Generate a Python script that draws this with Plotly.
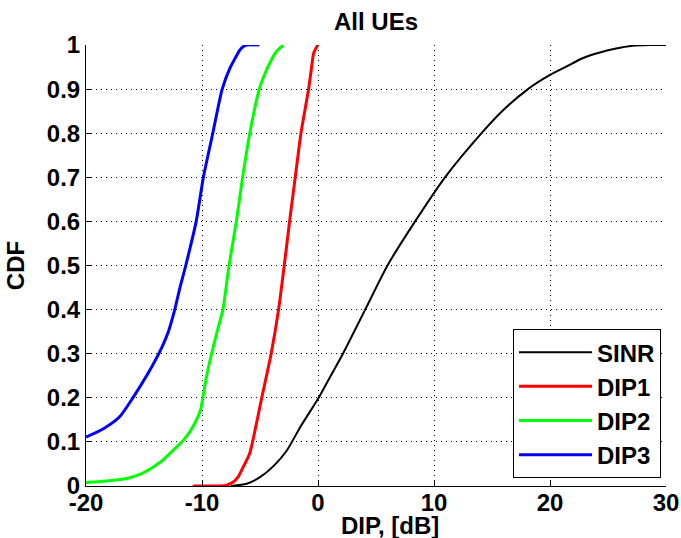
import plotly.graph_objects as go

# ---- data ----
sinr_x = [-7.5, -6.15, -5.0, -3.84, -2.7, -1.5, 0.06, 1.1, 2.15, 4.07, 5.99, 8.37, 10.95,
          14.1, 16.0, 18.1, 20, 21.4, 22.8, 24.3, 25.7, 27.1, 28.5, 30]
sinr_y = [0, 0.005, 0.02, 0.045, 0.08, 0.135, 0.2, 0.25, 0.3, 0.4, 0.5, 0.6, 0.7,
          0.8, 0.853, 0.9, 0.932, 0.951, 0.97, 0.983, 0.992, 0.998, 1.0, 1.0]

dip1_x = [-10.8, -8.5, -7.88, -7.3, -6.9, -6.58, -5.9, -5.43, -4.85, -4.04, -3.4, -2.91, -2.45,
          -1.96, -1.47, -0.81, -0.55, -0.38, -0.03]
dip1_y = [0, 0, 0.002, 0.009, 0.02, 0.036, 0.073, 0.126, 0.20, 0.30, 0.40, 0.50, 0.60,
          0.70, 0.80, 0.90, 0.95, 0.981, 1.0]

dip2_x = [-20, -18, -16.5, -15.2, -14.2, -13.4, -12.8, -12.2, -11.6, -11.0, -10.5, -10.1, -9.93,
          -9.6, -9.2, -8.7, -8.2, -7.67, -7.04, -6.5, -5.88, -5.06, -4.56, -4.1, -3.7, -3.3, -2.97]
dip2_y = [0.008, 0.012, 0.017, 0.028, 0.043, 0.058, 0.073, 0.088, 0.104, 0.125, 0.149, 0.175, 0.20,
          0.25, 0.297, 0.35, 0.40, 0.50, 0.60, 0.70, 0.80, 0.90, 0.936, 0.962, 0.981, 0.993, 1.0]

dip3_x = [-20, -18.5, -17.1, -15.96, -14.66, -13.65, -12.9, -12.35, -11.9, -11.4, -10.5, -9.88,
          -9.07, -8.26, -7.6, -7.1, -6.73, -6.4, -6.15, -5.05]
dip3_y = [0.111, 0.13, 0.157, 0.20, 0.255, 0.304, 0.35, 0.40, 0.45, 0.50, 0.60, 0.70,
          0.80, 0.90, 0.947, 0.972, 0.989, 0.997, 1.0, 1.0]

series_names = ["SINR", "DIP1", "DIP2", "DIP3"]
x_ticks = [-20, -10, 0, 10, 20, 30]
x_tick_text = ["-20", "-10", "0", "10", "20", "30"]
y_ticks = [0, 0.1, 0.2, 0.3, 0.4, 0.5, 0.6, 0.7, 0.8, 0.9, 1]
y_tick_text = ["0", "0.1", "0.2", "0.3", "0.4", "0.5", "0.6", "0.7", "0.8", "0.9", "1"]
title_text = "All UEs"
x_title = "DIP, [dB]"
y_title = "CDF"

# ---- styles ----
colors = ["#000000", "#FF0000", "#00FF00", "#0000FF"]
widths = [2, 3, 3, 3]
FONT = "Liberation Sans, Arial, sans-serif"
TXT = dict(family=FONT, size=24, color="#000000", weight="bold")

fig = go.Figure()
for i, (xs, ys) in enumerate([(sinr_x, sinr_y), (dip1_x, dip1_y), (dip2_x, dip2_y), (dip3_x, dip3_y)]):
    fig.add_trace(go.Scatter(
        x=xs, y=ys, mode="lines", name=series_names[i],
        legendgroup=series_names[i],
        line=dict(color=colors[i], width=widths[i], shape="spline", smoothing=0.6),
    ))

axis_common = dict(
    showline=True, linecolor="#000000", linewidth=1,
    ticks="inside", ticklen=5, tickcolor="#000000", tickwidth=1,
    showgrid=True, gridcolor="#000000", gridwidth=1, griddash="1px,4px",
    zeroline=False, mirror=False, automargin=False,
    tickfont=TXT,
)

fig.update_xaxes(range=[-20, 30], tickvals=x_ticks, ticktext=x_tick_text,
                 ticklabelstandoff=-5, **axis_common)
fig.update_yaxes(range=[0, 1], tickvals=y_ticks, ticktext=y_tick_text,
                 title=dict(text=y_title, font=TXT, standoff=15),
                 **axis_common)

# x-axis label placed as in the reference (slightly right of centre)
fig.add_annotation(text=x_title, xref="paper", yref="paper",
                   x=0.524, y=-0.0907, xanchor="center", yanchor="middle",
                   showarrow=False, font=TXT)

fig.update_layout(
    width=681, height=538,
    margin=dict(l=86, r=15, t=45, b=52),
    paper_bgcolor="#FFFFFF", plot_bgcolor="#FFFFFF",
    font=TXT,
    title=dict(text=title_text, x=0.5, xref="paper", xanchor="center",
               y=0.959, yref="container", yanchor="middle",
               font=TXT),
    legend=dict(x=0.9914, y=0.018, xanchor="right", yanchor="bottom",
                bgcolor="#FFFFFF", bordercolor="#000000", borderwidth=1,
                font=TXT, tracegroupgap=0, itemwidth=73),
    showlegend=True,
)

fig.write_html("out.html")
